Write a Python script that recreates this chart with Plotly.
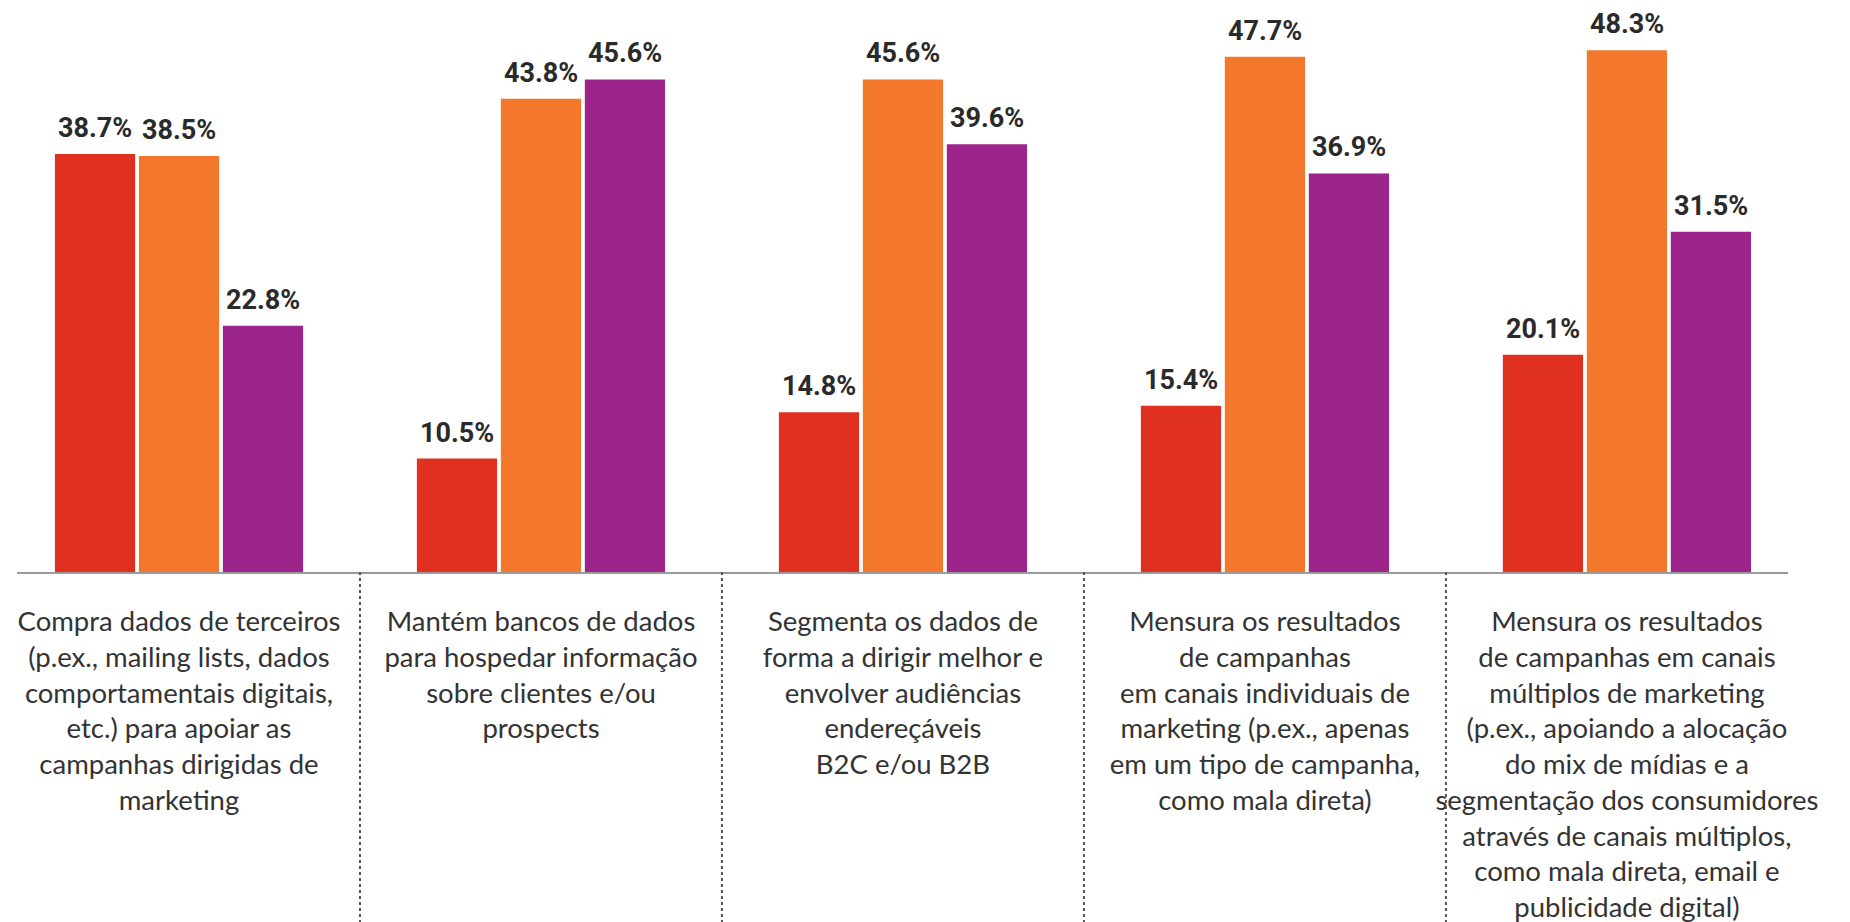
import numpy as np
import plotly.graph_objects as go

CATEGORIES = [
    "Compra dados de terceiros<br>(p.ex., mailing lists, dados<br>comportamentais digitais,<br>etc.) para apoiar as<br>campanhas dirigidas de<br>marketing",
    "Mantém bancos de dados<br>para hospedar informação<br>sobre clientes e/ou<br>prospects",
    "Segmenta os dados de<br>forma a dirigir melhor e<br>envolver audiências<br>endereçáveis<br>B2C e/ou B2B",
    "Mensura os resultados<br>de campanhas<br>em canais individuais de<br>marketing (p.ex., apenas<br>em um tipo de campanha,<br>como mala direta)",
    "Mensura os resultados<br>de campanhas em canais<br>múltiplos de marketing<br>(p.ex., apoiando a alocação<br>do mix de mídias e a<br>segmentação dos consumidores<br>através de canais múltiplos,<br>como mala direta, email e<br>publicidade digital)",
]

SERIES_NAMES = ["Série 1", "Série 2", "Série 3"]
RED_VALUES = [38.7, 10.5, 14.8, 15.4, 20.1]
ORANGE_VALUES = [38.5, 43.8, 45.6, 47.7, 48.3]
PURPLE_VALUES = [22.8, 45.6, 39.6, 36.9, 31.5]

COLORS = ["#E0301F", "#F3782C", "#9D248A"]

BARGAP = 0.304
BARGROUPGAP = 0.045
LABEL_FONT = "Roboto, Liberation Sans, sans-serif"
TEXT_FONT = "Lato, Noto Sans, sans-serif"

x = np.arange(len(CATEGORIES))
series = [RED_VALUES, ORANGE_VALUES, PURPLE_VALUES]

fig = go.Figure()
for name, vals, col in zip(SERIES_NAMES, series, COLORS):
    fig.add_trace(go.Bar(
        x=x, y=vals, name=name, marker_color=col,
        marker_line_width=0, showlegend=False,
        hovertemplate="%{y:.1f}%<extra></extra>",
    ))

# value labels above each bar
slot = (1 - BARGAP) / len(series)
for s, vals in enumerate(series):
    for i, v in enumerate(vals):
        fig.add_annotation(
            x=i + (s - 1) * slot, y=v, text=f"<b>{v:.1f}%</b>",
            showarrow=False, yanchor="bottom", yshift=8,
            font=dict(family=LABEL_FONT, size=27, color="#2a2a2a"),
        )

# dotted separators between groups
for i in range(len(CATEGORIES) - 1):
    fig.add_shape(
        type="line", xref="x", yref="paper",
        x0=i + 0.5, x1=i + 0.5, y0=0, y1=-0.66,
        line=dict(color="#555555", width=2, dash="dot"),
    )

# page body adds ~8px offset, margins account for it
fig.update_layout(
    width=1850, height=922,
    plot_bgcolor="white", paper_bgcolor="white",
    barmode="group", bargap=BARGAP, bargroupgap=BARGROUPGAP,
    margin=dict(l=9, r=70, t=12, b=358, autoexpand=False),
    xaxis=dict(
        range=[-0.4475, 4.445], tickvals=x, ticktext=CATEGORIES,
        showline=True, linecolor="#9a9a9a", linewidth=2,
        showgrid=False, zeroline=False, ticks="",
        automargin=False, ticklabelstandoff=24,
        tickfont=dict(family=TEXT_FONT, size=27.5, color="#333333"),
    ),
    yaxis=dict(range=[0, 51.1], visible=False),
)

fig.write_html("out.html")
